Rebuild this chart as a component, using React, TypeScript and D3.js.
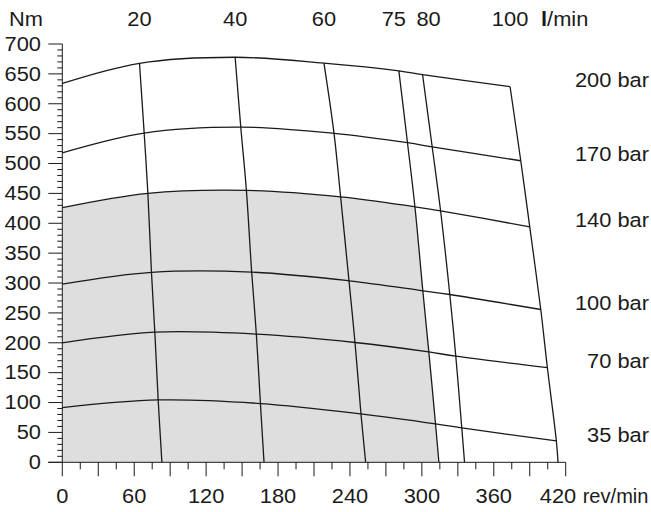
import React from "react";
import * as d3 from "d3";

const pressures = [35, 70, 100, 140, 170, 200];
const pressureLabels = ["35 bar", "70 bar", "100 bar", "140 bar", "170 bar", "200 bar"];
const flows = [20, 40, 60, 75, 80, 100];
const flowLabels = ["20", "40", "60", "75", "80", "100"];
// torque (Nm) at 0 rev/min for each pressure curve
const torqueAtStall = [91.6, 199.8, 298, 426, 518, 634];
// speed (rev/min) where each flow line crosses each pressure curve (rows: pressures, cols: flows)
const crossSpeed = [
  [80, 165.3, 249.2, 311.4, 333.3, 412.2],
  [77.2, 161.9, 244.2, 305.8, 328.3, 404.7],
  [74.4, 158, 239.2, 300.8, 323.3, 399.2],
  [71.4, 153.6, 232.2, 294.2, 315.6, 390],
  [68.3, 148.9, 226.7, 288, 308.6, 382.5],
  [64.4, 144.2, 218.3, 280.8, 300.6, 373.6],
];
// torque (Nm) at those crossings
const crossTorque = [
  [104.3, 98.3, 80.9, 64.2, 57.5, 35.7],
  [217.7, 214.4, 200.5, 184.7, 177.5, 158.6],
  [317.7, 318.2, 303.7, 287, 280.8, 255.7],
  [450, 455, 444.3, 427.6, 420.9, 394],
  [551, 561, 550.5, 534.8, 528, 504.6],
  [667.7, 677.8, 668, 655, 648.6, 628.5],
];
// speed where each flow line meets 0 Nm
const zeroTorqueSpeed = [83.1, 168.3, 253.1, 314.2, 335.6, 413.6];

const xTicksMinor = d3.range(0, 421, 15);
const xTickLabels = [0, 60, 120, 180, 240, 300, 360, 420];
const yTicksMinor = d3.range(0, 701, 10);
const yTickLabels = d3.range(0, 701, 50);

const W = 651;
const H = 512;
const FONT = "'Liberation Sans', Arial, sans-serif";
const FS = 19.5;
const SX = 1.12;
const INK = "#1a1a1a";

function T({
  x,
  y,
  anchor = "start",
  sx = SX,
  children,
}: {
  x: number;
  y: number;
  anchor?: "start" | "middle" | "end";
  sx?: number;
  children: React.ReactNode;
}) {
  return (
    <text transform={`translate(${x},${y}) scale(${sx},1)`} textAnchor={anchor} fill={INK}>
      {children}
    </text>
  );
}

export default function App() {
  const x = d3.scaleLinear().domain([0, 420]).range([62.3, 565.7]);
  const y = d3.scaleLinear().domain([0, 700]).range([462.3, 44]);

  type P = [number, number];
  const pressureCurves: P[][] = pressures.map((_, i) => [
    [0, torqueAtStall[i]] as P,
    ...flows.map((_, j) => [crossSpeed[i][j], crossTorque[i][j]] as P),
  ]);
  const flowCurves: P[][] = flows.map((_, j) => [
    [zeroTorqueSpeed[j], 0] as P,
    ...pressures.map((_, i) => [crossSpeed[i][j], crossTorque[i][j]] as P),
  ]);

  const line = d3
    .line<P>()
    .x((d) => x(d[0]))
    .y((d) => y(d[1]))
    .curve(d3.curveCatmullRom.alpha(0.5));

  const shadePressure = 3; // 140 bar
  const shadeFlow = 3; // 75 l/min
  const areaUnder = d3
    .area<P>()
    .x((d) => x(d[0]))
    .y0(y(0))
    .y1((d) => y(d[1]))
    .curve(d3.curveCatmullRom.alpha(0.5));
  const areaLeft = d3
    .area<P>()
    .y((d) => y(d[1]))
    .x0(x(0))
    .x1((d) => x(d[0]))
    .curve(d3.curveCatmullRom.alpha(0.5));
  const leftPts: P[] = [[zeroTorqueSpeed[shadeFlow], -50], ...flowCurves[shadeFlow]];

  const topOffsets: Record<string, number> = { "75": -5, "80": 6 };

  return (
    <svg
      width={W}
      height={H}
      style={{ position: "absolute", left: 0, top: 0, background: "#fff" }}
      fontFamily={FONT}
      fontSize={FS}
    >
      <defs>
        <clipPath id="leftOf75">
          <path d={areaLeft(leftPts) || ""} />
        </clipPath>
      </defs>
      <path
        d={areaUnder(pressureCurves[shadePressure]) || ""}
        fill="#dedede"
        clipPath="url(#leftOf75)"
      />

      {pressureCurves.map((c, i) => (
        <path key={"p" + i} d={line(c) || ""} fill="none" stroke={INK} strokeWidth={1.3} />
      ))}
      {flowCurves.map((c, j) => (
        <path key={"f" + j} d={line(c) || ""} fill="none" stroke={INK} strokeWidth={1.3} />
      ))}

      {/* y axis */}
      <line x1={x(0)} x2={x(0)} y1={y(0)} y2={y(700)} stroke={INK} strokeWidth={1} />
      {yTicksMinor.map((v) => (
        <line
          key={"ym" + v}
          x1={x(0) - (v % 50 === 0 ? 14 : 5)}
          x2={x(0)}
          y1={y(v)}
          y2={y(v)}
          stroke={INK}
          strokeWidth={1}
        />
      ))}
      {yTickLabels.map((v) => (
        <T key={"yl" + v} x={41} y={y(v) + 6.8} anchor="end">
          {v}
        </T>
      ))}

      {/* x axis */}
      <line x1={x(0) - 14} x2={x(420)} y1={y(0)} y2={y(0)} stroke={INK} strokeWidth={1} />
      {xTicksMinor.map((v) => (
        <line
          key={"xm" + v}
          x1={x(v)}
          x2={x(v)}
          y1={y(0)}
          y2={y(0) + (v % 30 === 0 ? 14 : 7)}
          stroke={INK}
          strokeWidth={1}
        />
      ))}
      {xTickLabels.map((v) =>
        v === 420 ? (
          <T key={"xl" + v} x={x(v) + 10.5} y={503.3} anchor="end">
            {v}
          </T>
        ) : (
          <T key={"xl" + v} x={x(v)} y={503.3} anchor="middle">
            {v}
          </T>
        )
      )}
      <T x={648.5} y={503.3} anchor="end" sx={1.03}>
        rev/min
      </T>

      {/* top flow labels */}
      <T x={9} y={26}>
        Nm
      </T>
      {flowLabels.map((lab, j) => (
        <T
          key={"tl" + lab}
          x={x(crossSpeed[5][j]) + (topOffsets[lab] || 0)}
          y={26}
          anchor="middle"
        >
          {lab}
        </T>
      ))}
      <T x={541} y={26}>
        <tspan fontWeight="bold">l</tspan>/min
      </T>

      {/* pressure labels */}
      {pressureLabels.map((lab, i) => (
        <T key={"pl" + lab} x={649} y={y(crossTorque[i][5]) + 0.6} anchor="end">
          {lab}
        </T>
      ))}
    </svg>
  );
}
